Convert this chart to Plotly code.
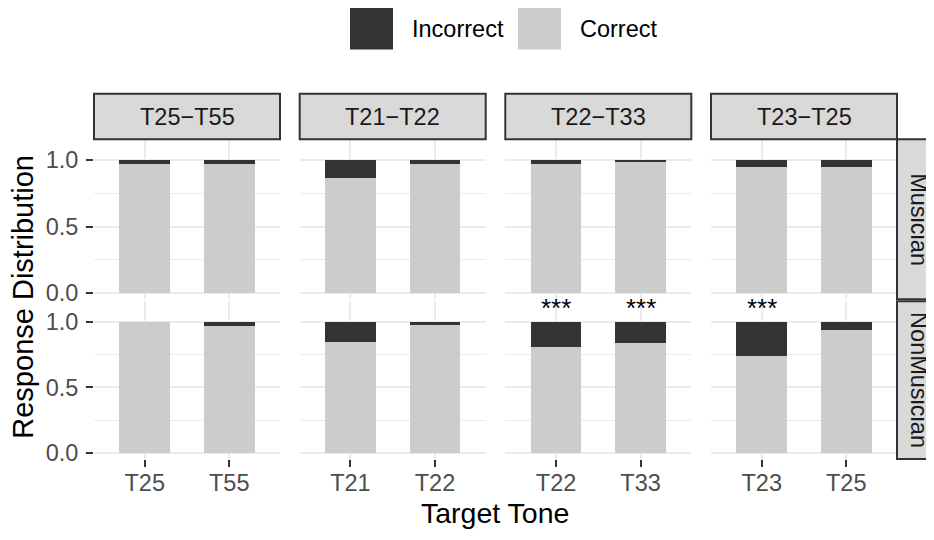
import plotly.graph_objects as go

# ---------------- data ----------------
tone_pairs = ["T25−T55", "T21−T22", "T22−T33", "T23−T25"]
groups = ["Musician", "NonMusician"]
target_tones = [["T25", "T55"], ["T21", "T22"], ["T22", "T33"], ["T23", "T25"]]

musician_correct = [[0.973, 0.973], [0.866, 0.973], [0.973, 0.988], [0.948, 0.948]]
musician_incorrect = [[0.027, 0.027], [0.134, 0.027], [0.027, 0.012], [0.052, 0.052]]
nonmusician_correct = [[1.000, 0.965], [0.844, 0.970], [0.807, 0.837], [0.740, 0.933]]
nonmusician_incorrect = [[0.000, 0.035], [0.156, 0.030], [0.193, 0.163], [0.260, 0.067]]

musician_signif = [["", ""], ["", ""], ["", ""], ["", ""]]
nonmusician_signif = [["", ""], ["", ""], ["***", "***"], ["***", ""]]

legend_labels = ["Incorrect", "Correct"]
y_tick_vals = [0, 0.5, 1.0]
y_tick_text = ["0.0", "0.5", "1.0"]

# ---------------- style ----------------
W, H = 934, 540
OFF = 8  # page body margin
FONT = "Liberation Sans, Arial, Helvetica, sans-serif"
C_CORRECT = "#CCCCCC"
C_INCORRECT = "#333333"
GRID = "#EBEBEB"
STRIP_FILL = "#D9D9D9"
STRIP_LINE = "#333333"


def fx(p):
    return (p - OFF) / W


def fy(p):
    return 1 - (p - OFF) / H


col_px = [(94, 280), (299.7, 485.7), (505.3, 691.3), (711, 897)]
row_px = [(141, 303), (305, 465)]

correct_rows = [musician_correct, nonmusician_correct]
incorrect_rows = [musician_incorrect, nonmusician_incorrect]
signif_rows = [musician_signif, nonmusician_signif]

fig = go.Figure()
layout = dict()
annotations = []
shapes = []

for r in range(2):
    for c in range(4):
        idx = r * 4 + c + 1
        xa = "x" if idx == 1 else f"x{idx}"
        ya = "y" if idx == 1 else f"y{idx}"
        fig.add_trace(go.Bar(x=target_tones[c], y=correct_rows[r][c], width=0.6,
                             marker=dict(color=C_CORRECT, line=dict(width=0)),
                             xaxis=xa, yaxis=ya, showlegend=False, name="Correct"))
        fig.add_trace(go.Bar(x=target_tones[c], y=incorrect_rows[r][c], width=0.6,
                             marker=dict(color=C_INCORRECT, line=dict(width=0)),
                             xaxis=xa, yaxis=ya, showlegend=False, name="Incorrect"))
        bottom = (r == 1)
        left = (c == 0)
        layout["xaxis" if idx == 1 else f"xaxis{idx}"] = dict(
            domain=[fx(col_px[c][0]), fx(col_px[c][1])],
            anchor=ya, type="category", categoryorder="array",
            categoryarray=target_tones[c], range=[-0.6, 1.6],
            showgrid=True, gridcolor=GRID, gridwidth=2, zeroline=False, showline=False,
            showticklabels=bottom, ticks="outside" if bottom else "",
            ticklen=7, tickwidth=2, tickcolor="#333333", ticklabelstandoff=-4,
            tickfont=dict(family=FONT, size=23.5, color="#4D4D4D"),
            fixedrange=True,
        )
        layout["yaxis" if idx == 1 else f"yaxis{idx}"] = dict(
            domain=[fy(row_px[r][1]), fy(row_px[r][0])],
            anchor=xa, range=[-0.045, 1.155],
            tickvals=y_tick_vals, ticktext=y_tick_text,
            showgrid=True, gridcolor=GRID, gridwidth=2, zeroline=False, showline=False,
            minor=dict(tickvals=[0.25, 0.75], showgrid=True, gridcolor=GRID, gridwidth=1, ticks=""),
            showticklabels=left, ticks="outside" if left else "",
            ticklen=7, tickwidth=2, tickcolor="#333333", ticklabelstandoff=3,
            tickfont=dict(family=FONT, size=23.5, color="#4D4D4D"),
            fixedrange=True,
        )
        for k in range(2):
            s = signif_rows[r][c][k]
            if s:
                annotations.append(dict(x=target_tones[c][k], y=1.1, xref=xa, yref=ya,
                                        text=s, showarrow=False, xanchor="center", yanchor="middle",
                                        font=dict(family=FONT, size=26, color="black")))

# top strips
for c in range(4):
    x0, x1 = col_px[c]
    shapes.append(dict(type="rect", xref="paper", yref="paper", x0=fx(x0), x1=fx(x1),
                       y0=fy(141), y1=fy(95), fillcolor=STRIP_FILL,
                       line=dict(color=STRIP_LINE, width=2), layer="above"))
    annotations.append(dict(x=fx((x0 + x1) / 2), y=fy(118), xref="paper", yref="paper",
                            text=tone_pairs[c], showarrow=False, xanchor="center", yanchor="middle",
                            font=dict(family=FONT, size=23.5, color="#1A1A1A")))

# right strips
for r in range(2):
    y0, y1 = row_px[r]
    shapes.append(dict(type="rect", xref="paper", yref="paper", x0=fx(897), x1=fx(945),
                       y0=fy(y1), y1=fy(y0), fillcolor=STRIP_FILL,
                       line=dict(color=STRIP_LINE, width=2), layer="above"))
    annotations.append(dict(x=fx(919), y=fy((y0 + y1) / 2), xref="paper", yref="paper",
                            text=groups[r], showarrow=False, textangle=90,
                            xanchor="center", yanchor="middle",
                            font=dict(family=FONT, size=23.5, color="#1A1A1A")))

# axis titles
annotations.append(dict(x=fx(495), y=fy(520), xref="paper", yref="paper", text="Target Tone",
                        showarrow=False, xanchor="center", yanchor="middle",
                        font=dict(family=FONT, size=28.5, color="black")))
annotations.append(dict(x=fx(23.5), y=fy(301), xref="paper", yref="paper",
                        text="Response Distribution", showarrow=False, textangle=-90,
                        xanchor="center", yanchor="middle",
                        font=dict(family=FONT, size=29, color="black")))

# legend
legend_keys = [(350, C_INCORRECT, 410), (518, C_CORRECT, 578)]
for (kx, kc, tx), lab in zip(legend_keys, legend_labels):
    shapes.append(dict(type="rect", xref="paper", yref="paper", x0=fx(kx), x1=fx(kx + 43),
                       y0=fy(50), y1=fy(7), fillcolor=kc, line=dict(width=0)))
    annotations.append(dict(x=fx(tx), y=fy(29), xref="paper", yref="paper", text=lab,
                            showarrow=False, xanchor="left", yanchor="middle",
                            font=dict(family=FONT, size=23.5, color="black")))

fig.update_layout(
    width=W, height=H, margin=dict(l=0, r=0, t=0, b=0),
    paper_bgcolor="white", plot_bgcolor="white",
    barmode="stack", showlegend=False,
    annotations=annotations, shapes=shapes,
    font=dict(family=FONT),
    **layout,
)

fig.write_html("out.html")
